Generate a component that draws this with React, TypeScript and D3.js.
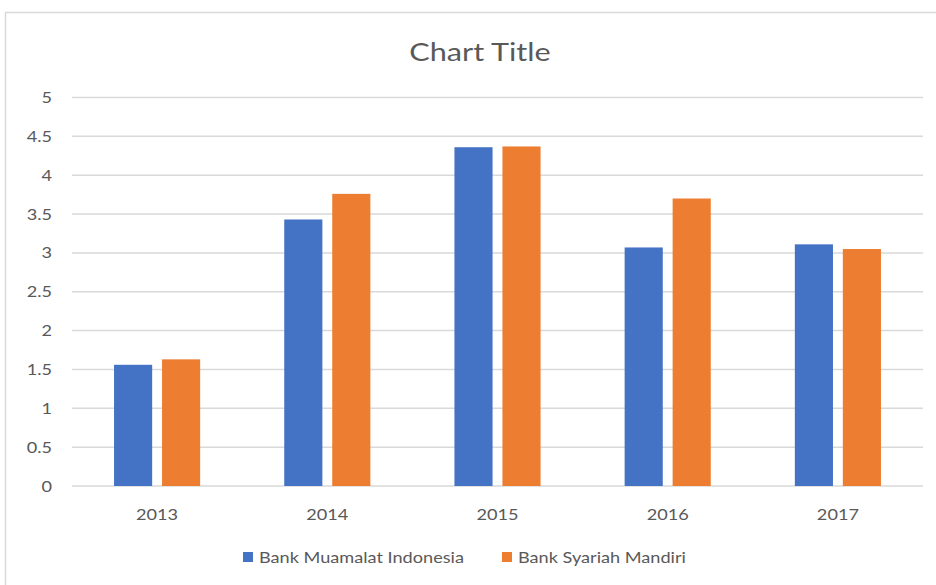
import React from "react";
import * as d3 from "d3";

const categories = ["2013", "2014", "2015", "2016", "2017"];
const seriesNames = ["Bank Muamalat Indonesia", "Bank Syariah Mandiri"];
const muamalat = [1.56, 3.43, 4.36, 3.07, 3.11];
const mandiri = [1.63, 3.76, 4.37, 3.7, 3.05];
const yTicks = [0, 0.5, 1, 1.5, 2, 2.5, 3, 3.5, 4, 4.5, 5];
const colors = ["#4472C4", "#ED7D31"];

const W = 936;
const H = 585;
const FONT = "Lato, 'Open Sans', sans-serif";
const SX = 1.17;

function T({ x, y, anchor = "start", size, sx = SX, children }: any) {
  return (
    <text
      transform={`translate(${x},${y}) scale(${sx},1)`}
      textAnchor={anchor}
      fontSize={size}
      fill="#595959"
    >
      {children}
    </text>
  );
}

export default function App() {
  const plotLeft = 72;
  const plotRight = 923;
  const plotTop = 97.5;
  const plotBottom = 486;
  const x = d3.scaleBand<string>().domain(categories).range([plotLeft, plotRight]).padding(0);
  const y = d3.scaleLinear().domain([0, 5]).range([plotBottom, plotTop]);
  const band = x.bandwidth();
  const barW = band * 0.224;
  const gap = band * 0.058;
  const series = [muamalat, mandiri];

  return (
    <svg
      width={W}
      height={H}
      style={{ position: "absolute", left: 0, top: 0, background: "#fff" }}
      fontFamily={FONT}
    >
      <rect x={5.5} y={12.5} width={W + 10} height={H + 10} fill="#fff" stroke="#d9d9d9" strokeWidth={1.5} />
      <T x={480} y={61} anchor="middle" size={25.5} sx={1.2}>
        Chart Title
      </T>
      {yTicks.map((t) => (
        <g key={t}>
          <line x1={plotLeft} x2={plotRight} y1={y(t)} y2={y(t)} stroke="#d9d9d9" strokeWidth={1.5} />
          <T x={52} y={y(t) + 5.5} anchor="end" size={15.5}>
            {t}
          </T>
        </g>
      ))}
      {categories.map((c, i) => {
        const cx = (x(c) as number) + band / 2;
        return (
          <g key={c}>
            {series.map((s, k) => {
              const bx = k === 0 ? cx - gap / 2 - barW : cx + gap / 2;
              return (
                <rect
                  key={k}
                  x={bx}
                  y={y(s[i])}
                  width={barW}
                  height={y(0) - y(s[i])}
                  fill={colors[k]}
                />
              );
            })}
            <T x={cx} y={520} anchor="middle" size={15.5}>
              {c}
            </T>
          </g>
        );
      })}
      {seriesNames.map((n, k) => {
        const lx = k === 0 ? 243 : 502;
        return (
          <g key={n}>
            <rect x={lx} y={552} width={10} height={10} fill={colors[k]} />
            <T x={lx + 16} y={563} size={15.5}>
              {n}
            </T>
          </g>
        );
      })}
    </svg>
  );
}
